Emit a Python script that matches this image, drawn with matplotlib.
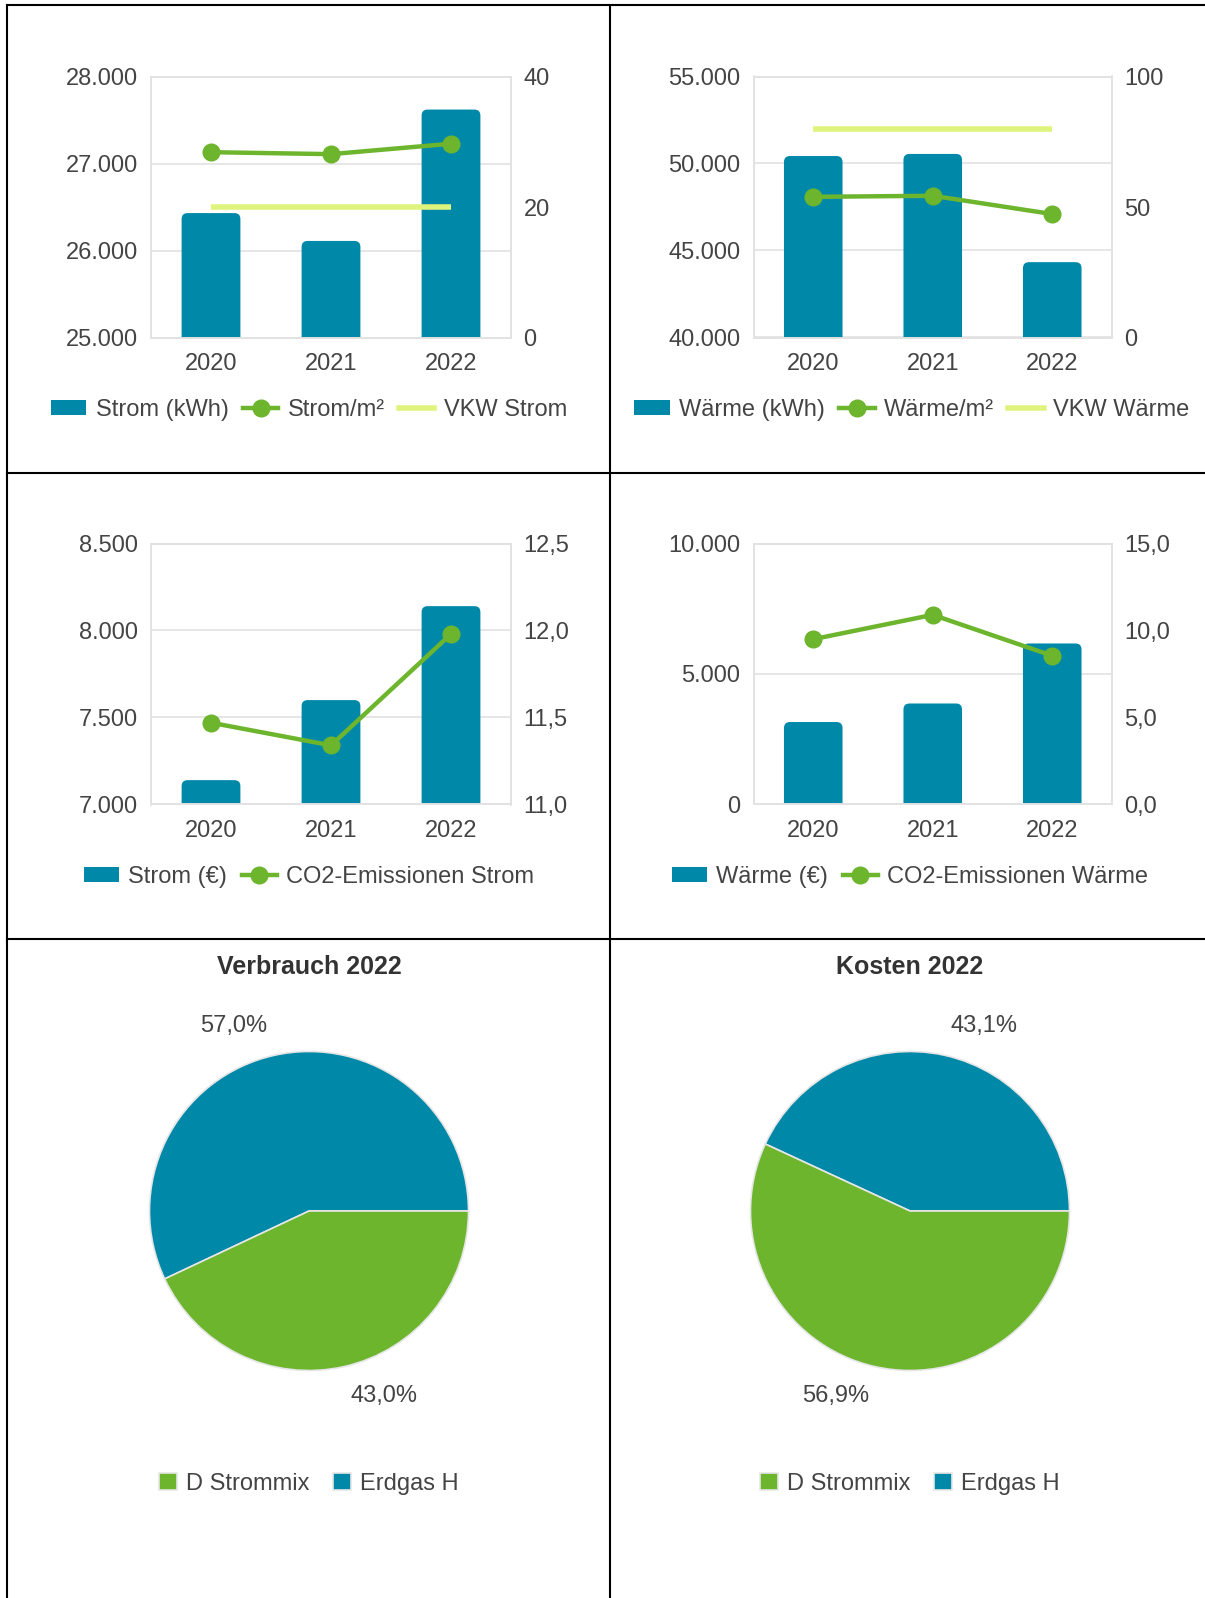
import matplotlib as mpl
mpl.use('Agg')
import matplotlib.pyplot as plt
from matplotlib.patches import FancyBboxPatch, Patch
from matplotlib.lines import Line2D
from matplotlib.ticker import FuncFormatter, FixedLocator

plt.rcParams['font.family'] = ['Liberation Sans', 'DejaVu Sans']

W, H = 1205, 1598
TEAL = '#0088a8'
GREEN = '#6db52d'
LIME = '#dff47c'
TEXT = '#444444'
GRID = '#e2e2e2'
FS = 17

years = ['2020', '2021', '2022']

strom_kwh = [26430, 26110, 27620]
strom_m2 = [28.4, 28.1, 29.7]
vkw_strom = [20, 20, 20]

waerme_kwh = [50430, 50550, 44330]
waerme_m2 = [53.9, 54.3, 47.3]
vkw_waerme = [80, 80, 80]

strom_eur = [7140, 7600, 8140]
co2_strom = [11.47, 11.34, 11.98]

waerme_eur = [3160, 3870, 6170]
co2_waerme = [9.5, 10.9, 8.55]

pie_names = ['Erdgas H', 'D Strommix']
verbrauch_2022 = [57.0, 43.0]
kosten_2022 = [43.1, 56.9]


def thousands(v, pos=None):
  return '{:,.0f}'.format(v).replace(',', '.')

def one_dec(v, pos=None):
  return '{:.1f}'.format(v).replace('.', ',')

def box(x0, y0, x1, y1):
  # pixel box (top-left origin) -> figure fraction
  return [x0 / W, 1 - y1 / H, (x1 - x0) / W, (y1 - y0) / H]

def round_tops(ax, bars, r_px=6):
  pos = ax.get_position()
  xl, yl = ax.get_xlim(), ax.get_ylim()
  xu = (xl[1] - xl[0]) / (pos.width * W)
  yu = (yl[1] - yl[0]) / (pos.height * H)
  r = r_px * xu
  asp = yu / xu
  for b in bars:
    x, w = b.get_x(), b.get_width()
    y0, h = b.get_y(), b.get_height()
    extra = 3 * r * asp
    p = FancyBboxPatch((x, y0 - extra), w, h + extra,
                       boxstyle='round,pad=0,rounding_size=%f' % r,
                       mutation_aspect=asp, fc=TEAL, ec='none', zorder=2)
    ax.add_patch(p)
    b.remove()

def combo(rect, bars, line, vkw, left_lim, left_ticks, right_lim, right_ticks,
          right_fmt, names, legend_xy):
  ax = fig.add_axes(box(*rect))
  x = list(range(len(years)))
  bc = ax.bar(x, bars, width=0.49, color=TEAL, zorder=2)
  ax.set_xlim(-0.5, 2.5)
  ax.set_ylim(*left_lim)
  ax.yaxis.set_major_locator(FixedLocator(left_ticks))
  ax.yaxis.set_major_formatter(FuncFormatter(thousands))
  ax.set_xticks(x)
  ax.set_xticklabels(years)
  ax.set_axisbelow(True)
  ax.yaxis.grid(True, color=GRID, lw=1.2)
  ax.tick_params(length=0, labelsize=FS, colors=TEXT)
  ax.tick_params(axis='y', pad=9.4)
  ax.tick_params(axis='x', pad=11)
  round_tops(ax, bc)

  ax2 = ax.twinx()
  ax2.set_ylim(*right_lim)
  ax2.yaxis.set_major_locator(FixedLocator(right_ticks))
  ax2.yaxis.set_major_formatter(FuncFormatter(right_fmt))
  ax2.tick_params(length=0, labelsize=FS, colors=TEXT, pad=9)
  handles = [Patch(fc=TEAL)]
  if vkw is not None:
    ax2.plot(x, vkw, color=LIME, lw=4, solid_capstyle='butt', zorder=2)
  ax2.plot(x, line, color=GREEN, lw=3.2, marker='o', ms=12, zorder=3)
  handles.append(Line2D([], [], color=GREEN, lw=3.2, marker='o', ms=12))
  if vkw is not None:
    handles.append(Line2D([], [], color=LIME, lw=4))
  for a in (ax, ax2):
    for s in a.spines.values():
      s.set_color(GRID)
      s.set_linewidth(1.2)
  fig.legend(handles, names, loc='center',
             bbox_to_anchor=(legend_xy[0] / W, 1 - legend_xy[1] / H),
             ncol=len(names), frameon=False, fontsize=FS, labelcolor=TEXT,
             handlelength=1.5, handleheight=0.6, handletextpad=0.4,
             columnspacing=0.6, numpoints=1, borderaxespad=0, borderpad=0)

def pie(center, values, title):
  r = 159.5
  cx, cy = center
  ax = fig.add_axes(box(cx - r, cy - r, cx + r, cy + r))
  pct = [one_dec(v) + '%' for v in values]
  wedges, texts = ax.pie(values, colors=[TEAL, GREEN], startangle=0,
                         counterclock=True, labels=pct, labeldistance=1.19,
                         radius=1, wedgeprops=dict(edgecolor='#e6e6e6', linewidth=1.2),
                         textprops=dict(fontsize=FS, color=TEXT))
  ax.set_xlim(-1, 1)
  ax.set_ylim(-1, 1)
  ax.set_aspect('equal')
  fig.text(cx / W, 1 - 967 / H, title, ha='center', va='center',
           fontsize=18, fontweight='bold', color='#333333')
  fig.legend([wedges[1], wedges[0]], [pie_names[1], pie_names[0]], loc='center',
             bbox_to_anchor=(cx / W, 1 - 1484 / H), ncol=2, frameon=False,
             fontsize=FS, labelcolor=TEXT, handlelength=0.75, handleheight=0.75,
             handletextpad=0.4, columnspacing=1.0, borderaxespad=0, borderpad=0)


fig = plt.figure(figsize=(W / 100, H / 100), dpi=100)

combo((151, 76.5, 511, 337.5), strom_kwh, strom_m2, vkw_strom,
      (25000, 28000), [25000, 26000, 27000, 28000], (0, 40), [0, 20, 40],
      thousands, ['Strom (kWh)', 'Strom/m²', 'VKW Strom'], (309, 410))
combo((753.5, 76.5, 1112, 337.5), waerme_kwh, waerme_m2, vkw_waerme,
      (40000, 55000), [40000, 45000, 50000, 55000], (0, 100), [0, 50, 100],
      thousands, ['Wärme (kWh)', 'Wärme/m²', 'VKW Wärme'], (912, 410))
combo((151, 543.5, 511, 804.5), strom_eur, co2_strom, None,
      (7000, 8500), [7000, 7500, 8000, 8500], (11.0, 12.5), [11.0, 11.5, 12.0, 12.5],
      one_dec, ['Strom (€)', 'CO2-Emissionen Strom'], (309, 877))
combo((753.5, 543.5, 1112, 804.5), waerme_eur, co2_waerme, None,
      (0, 10000), [0, 5000, 10000], (0, 15), [0, 5, 10, 15],
      one_dec, ['Wärme (€)', 'CO2-Emissionen Wärme'], (910, 877))

pie((309, 1211), verbrauch_2022, 'Verbrauch 2022')
pie((910, 1211), kosten_2022, 'Kosten 2022')

# panel frame lines
def hline(y, x0=7.5, x1=W):
  fig.add_artist(Line2D([x0 / W, x1 / W], [1 - y / H, 1 - y / H], color='black', lw=1.5))

def vline(x, y0=4.5, y1=H):
  fig.add_artist(Line2D([x / W, x / W], [1 - y0 / H, 1 - y1 / H], color='black', lw=1.5))

hline(4.5)
hline(472.5)
hline(938.5)
vline(7.5)
vline(609.5)

fig.savefig('out.png', dpi=100, facecolor='white')
